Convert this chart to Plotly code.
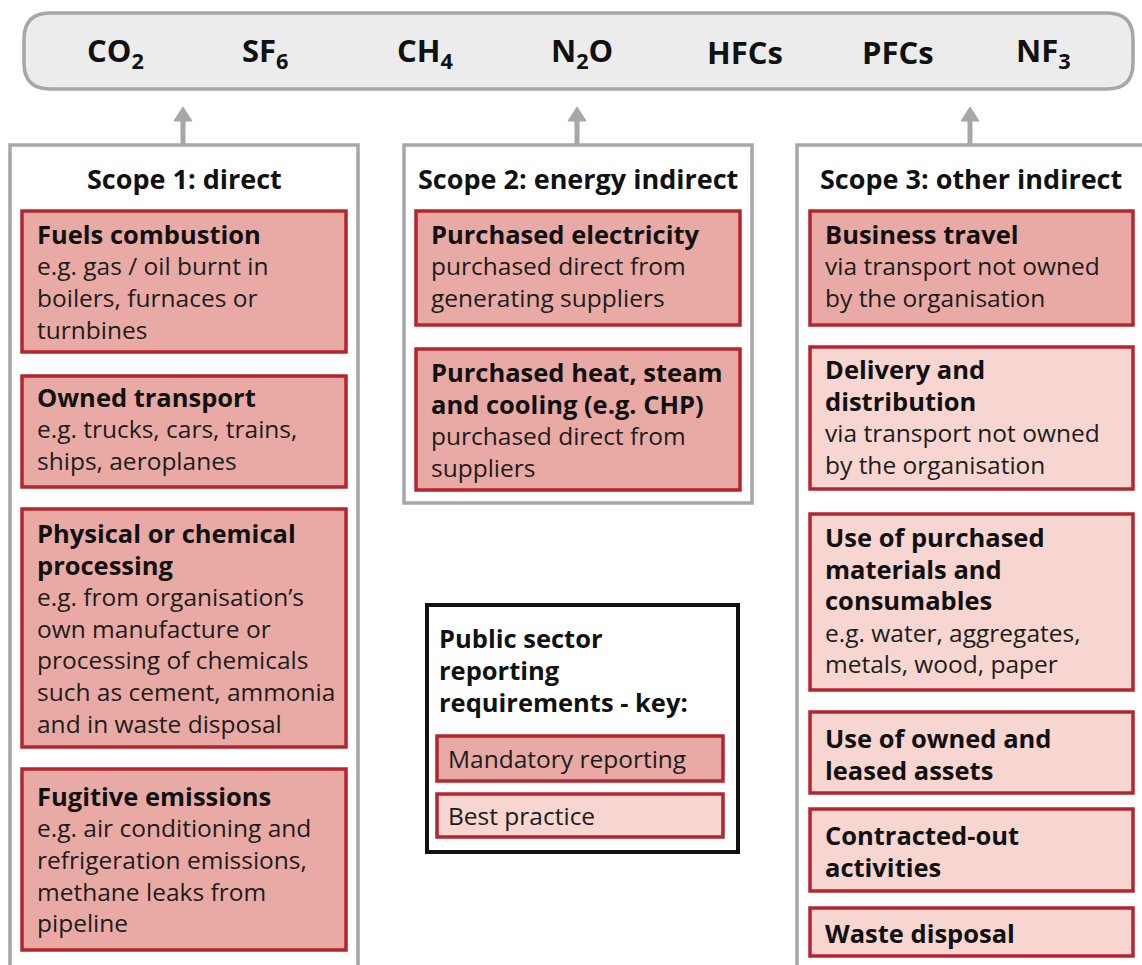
import plotly.graph_objects as go

# ---------------- data ----------------
gases = ["CO<sub>2</sub>", "SF<sub>6</sub>", "CH<sub>4</sub>", "N<sub>2</sub>O", "HFCs", "PFCs", "NF<sub>3</sub>"]

scope_titles = ["Scope 1: direct", "Scope 2: energy indirect", "Scope 3: other indirect"]

scope1_heads = [["Fuels combustion"], ["Owned transport"], ["Physical or chemical", "processing"], ["Fugitive emissions"]]
scope1_desc = [["e.g. gas / oil burnt in", "boilers, furnaces or", "turnbines"],
               ["e.g. trucks, cars, trains,", "ships, aeroplanes"],
               ["e.g. from organisation\u2019s", "own manufacture or", "processing of chemicals",
                "such as cement, ammonia", "and in waste disposal"],
               ["e.g. air conditioning and", "refrigeration emissions,", "methane leaks from", "pipeline"]]
scope1_kind = ["mandatory", "mandatory", "mandatory", "mandatory"]

scope2_heads = [["Purchased electricity"], ["Purchased heat, steam", "and cooling (e.g. CHP)"]]
scope2_desc = [["purchased direct from", "generating suppliers"], ["purchased direct from", "suppliers"]]
scope2_kind = ["mandatory", "mandatory"]

scope3_heads = [["Business travel"], ["Delivery and", "distribution"],
                ["Use of purchased", "materials and", "consumables"],
                ["Use of owned and", "leased assets"], ["Contracted-out", "activities"], ["Waste disposal"]]
scope3_desc = [["via transport not owned", "by the organisation"], ["via transport not owned", "by the organisation"],
               ["e.g. water, aggregates,", "metals, wood, paper"], [], [], []]
scope3_kind = ["mandatory", "best", "best", "best", "best", "best"]

key_title = ["Public sector", "reporting", "requirements - key:"]
key_labels = ["Mandatory reporting", "Best practice"]
key_kinds = ["mandatory", "best"]

# ---------------- layout / style ----------------
W, H = 1142, 965
FONT = "Open Sans"
TXT = "#1c1c1c"
GRAY = "#a7a7a7"
RED = "#b5252f"
FILL = {"mandatory": "#e9aaa5", "best": "#f7d5d0"}
SZ_BODY = 24.5
SZ_HEAD = 25.5

gas_x = [115, 265, 425, 582, 745, 898, 1043]
scope_boxes = [(10, 145, 358, 990), (404, 145, 752, 503), (797, 145, 1147, 990)]
title_x = [184, 578, 971]
arrow_x = [183, 577, 970]
item_x = [(22, 346), (416, 740), (810, 1133)]
item_y = [
    [(211, 352), (376, 487), (509, 747), (769, 950)],
    [(211, 325), (349, 490)],
    [(211, 325), (347, 489), (514, 690), (712, 793), (809, 891), (908, 956)],
]
first_off = [[23, 21, 24, 27], [23, 23], [23, 22, 23, 26, 26, 25]]
LS = 31.7

shapes = []
ann = []

def T(x, y, text, size=SZ_BODY, bold=False, xanchor="left", color=TXT):
    ann.append(dict(x=x, y=y, xref="x", yref="y", text=(f"<b>{text}</b>" if bold else text),
                    showarrow=False, xanchor=xanchor, yanchor="middle", align="left",
                    font=dict(family=FONT, size=size, color=color)))

# top rounded bar
x0, y0, x1, y1, r = 24, 13, 1133, 89, 26
path = (f"M{x0+r},{y0} L{x1-r},{y0} Q{x1},{y0} {x1},{y0+r} L{x1},{y1-r} Q{x1},{y1} {x1-r},{y1} "
        f"L{x0+r},{y1} Q{x0},{y1} {x0},{y1-r} L{x0},{y0+r} Q{x0},{y0} {x0+r},{y0} Z")
shapes.append(dict(type="path", path=path, xref="x", yref="y", fillcolor="#ececec",
                   line=dict(color=GRAY, width=3.5), layer="below"))
for gx, g in zip(gas_x, gases):
    T(gx, 52, g, size=31, bold=True, xanchor="center", color="#111111")

# scope containers + arrows + titles
for i, (bx0, by0, bx1, by1) in enumerate(scope_boxes):
    shapes.append(dict(type="rect", x0=bx0, y0=by0, x1=bx1, y1=by1, xref="x", yref="y",
                       fillcolor="white", line=dict(color=GRAY, width=3.5), layer="below"))
    ax = arrow_x[i]
    shapes.append(dict(type="line", x0=ax, x1=ax, y0=by0, y1=118, xref="x", yref="y",
                       line=dict(color=GRAY, width=5)))
    shapes.append(dict(type="path", path=f"M{ax-9},{121} L{ax},{107} L{ax+9},{121} Z",
                       xref="x", yref="y", fillcolor=GRAY, line=dict(color=GRAY, width=1)))
    T(title_x[i], 178, scope_titles[i], size=27, bold=True, xanchor="center", color="#111111")

groups = [(scope1_heads, scope1_desc, scope1_kind), (scope2_heads, scope2_desc, scope2_kind),
          (scope3_heads, scope3_desc, scope3_kind)]
for gi, (heads, descs, kinds) in enumerate(groups):
    ix0, ix1 = item_x[gi]
    for k, (hd, ds, kd) in enumerate(zip(heads, descs, kinds)):
        ty0, ty1 = item_y[gi][k]
        shapes.append(dict(type="rect", x0=ix0, x1=ix1, y0=ty0, y1=ty1, xref="x", yref="y",
                           fillcolor=FILL[kd], line=dict(color=RED, width=3.5)))
        y = ty0 + first_off[gi][k]
        for line in hd:
            T(ix0 + 13, y, line, size=SZ_HEAD, bold=True, color="#111111")
            y += LS
        for line in ds:
            T(ix0 + 13, y, line, size=SZ_BODY, bold=False)
            y += LS

# key box
shapes.append(dict(type="rect", x0=427, x1=738, y0=605, y1=852, xref="x", yref="y",
                   fillcolor="white", line=dict(color="#111111", width=4)))
for j, line in enumerate(key_title):
    T(437, 638 + j * 32, line, size=SZ_HEAD, bold=True, color="#111111")
key_y = [(736, 781), (794, 837)]
for (ky0, ky1), lab, kd in zip(key_y, key_labels, key_kinds):
    shapes.append(dict(type="rect", x0=437, x1=723, y0=ky0, y1=ky1, xref="x", yref="y",
                       fillcolor=FILL[kd], line=dict(color=RED, width=3.5)))
    T(446, (ky0 + ky1) / 2, lab, size=SZ_BODY)

fig = go.Figure()
fig.update_layout(
    width=W, height=H, autosize=False,
    margin=dict(l=0, r=0, t=0, b=0),
    paper_bgcolor="white", plot_bgcolor="white",
    xaxis=dict(range=[0, W], visible=False, fixedrange=True),
    yaxis=dict(range=[H, 0], visible=False, fixedrange=True),
    shapes=shapes, annotations=ann, showlegend=False,
)
fig.write_html("out.html", config={"displayModeBar": False},
               post_script="document.body.style.margin='0';document.body.style.overflow='hidden';")
